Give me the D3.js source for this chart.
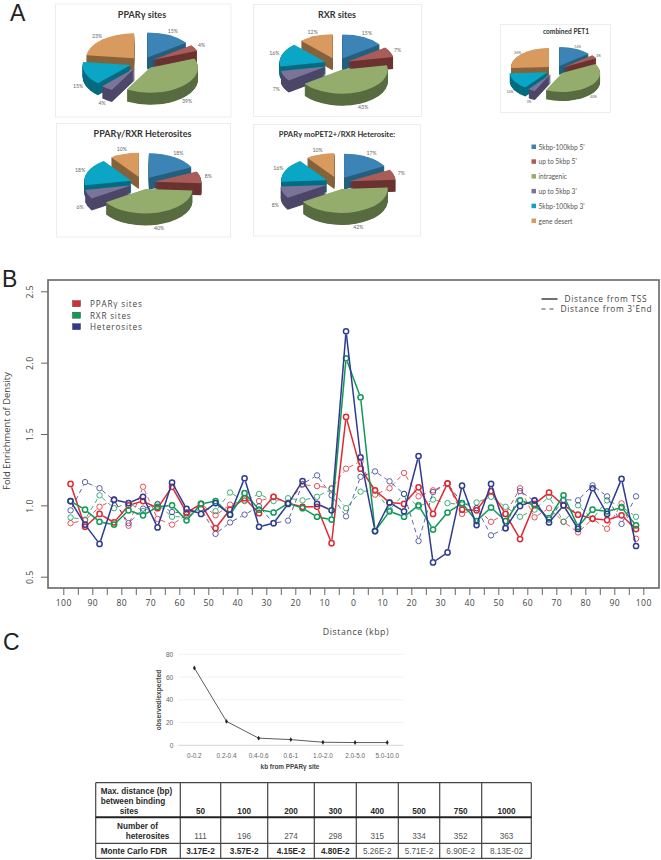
<!DOCTYPE html>
<html>
<head>
<meta charset="utf-8">
<script src="https://cdn.jsdelivr.net/npm/d3@7"></script>
<style>
  body { margin: 0; background: #fff; }
</style>
</head>
<body>
<div id="graph"></div>
<script>
// panel A
const sliceNames = ["5kbp-100kbp 5'", "up to 5kbp 5'", "intragenic", "up to 5kbp 3'", "5kbp-100kbp 3'", "gene desert"];
const sliceColors = ['#3c84b6', '#a95d58', '#94ad6c', '#7b7499', '#0ba6c6', '#d99a60'];
const wallColors = ['#25607f', '#6b3331', '#596c41', '#4d4769', '#066c81', '#87633b'];
const pie1Values = [15, 4, 39, 4, 15, 23];
const pie2Values = [15, 7, 43, 7, 16, 12];
const pie3Values = [18, 8, 40, 6, 18, 10];
const pie4Values = [17, 7, 42, 8, 16, 10];
const pie5Values = [14, 3, 40, 3, 14, 26];

// panel B
const bins = [-97.5, -92.5, -87.5, -82.5, -77.5, -72.5, -67.5, -62.5, -57.5, -52.5, -47.5, -42.5, -37.5, -32.5, -27.5, -22.5, -17.5, -12.5, -7.5, -2.5,
  2.5, 7.5, 12.5, 17.5, 22.5, 27.5, 32.5, 37.5, 42.5, 47.5, 52.5, 57.5, 62.5, 67.5, 72.5, 77.5, 82.5, 87.5, 92.5, 97.5];
const tssRed = [1.15, .85, .94, .88, 1.0, 1.03, .98, 1.13, .95, 1.01, .84, .97, 1.05, .945, 1.06, 1.015, .99, .99, .735, 1.62,
  1.257, 1.105, 1.02, 1.01, 1.126, .94, 1.154, .97, .965, 1.10, .94, .764, 1.01, 1.09, 1.0, .935, .907, .897, .93, .834];
const tssGreen = [1.03, .97, .885, .865, .965, .93, .99, 1.0, .895, 1.01, 1.03, .935, 1.085, .97, .95, 1.015, .98, .92, .90, 2.03,
  1.757, .82, .958, .92, 1.0, .83, .95, 1.015, .89, .985, .89, 1.035, 1.0, .91, 1.07, .85, .97, .958, .985, .86];
const tssBlue = [1.03, .865, .73, 1.04, 1.016, 1.06, .845, 1.16, .975, .94, 1.016, .935, 1.19, .85, .875, 1.01, 1.17, 1.01, .965, 2.22,
  1.336, .82, 1.02, .958, 1.346, .60, .67, 1.138, .862, 1.15, .84, .995, 1.035, .88, 1.0, .835, 1.12, .94, 1.185, .715];
const endRed = [.875, .895, .99, 1.04, .857, 1.13, .905, .865, .935, 1.01, .93, 1.005, 1.035, 1.03, 1.06, 1.015, 1.145, 1.135, 1.12, 1.257,
  1.308, 1.075, 1.12, 1.227, 1.063, 1.105, 1.15, .94, .98, .885, .94, 1.12, .916, .98, .885, .81, .904, .836, 1.014, .766];
const endGreen = [.915, .90, 1.07, .98, 1.016, .96, 1.005, .92, .92, .98, .96, 1.09, 1.03, 1.08, 1.03, 1.05, 1.035, 1.06, 1.115, .98,
  1.096, 1.105, .97, 1.08, .99, 1.04, 1.016, 1.005, 1.02, 1.06, .99, .92, .97, 1.06, .885, 1.0, .904, 1.035, .99, .92];
const endBlue = [.965, 1.163, 1.12, 1.035, .875, .977, 1.01, .953, .945, .975, .80, .88, .935, .993, .875, .893, 1.15, 1.21, 1.07, .923,
  1.20, 1.238, 1.168, 1.08, .75, 1.093, 1.154, 1.016, .98, .79, .84, 1.10, 1.03, .90, 1.04, 1.035, 1.14, 1.063, .87, 1.063];
const xTicks = [-100, -95, -90, -85, -80, -75, -70, -65, -60, -55, -50, -45, -40, -35, -30, -25, -20, -15, -10, -5, 0,
  5, 10, 15, 20, 25, 30, 35, 40, 45, 50, 55, 60, 65, 70, 75, 80, 85, 90, 95, 100];
const yTicks = [0.5, 1, 1.5, 2, 2.5];
const legendLabels = ['PPARγ sites', 'RXR sites', 'Heterosites'];

// panel C
const distBins = ['0-0.2', '0.2-0.4', '0.4-0.6', '0.6-1', '1.0-2.0', '2.0-5.0', '5.0-10.0'];
const obsExp = [68, 21, 6.3, 5, 2.7, 2.4, 2.4];
const obsTicks = [0, 20, 40, 60, 80];
const maxDist = ['50', '100', '200', '300', '400', '500', '750', '1000'];
const numHetero = ['111', '196', '274', '298', '315', '334', '352', '363'];
const fdr = ['3.17E-2', '3.57E-2', '4.15E-2', '4.80E-2', '5.26E-2', '5.71E-2', '6.90E-2', '8.13E-02'];

const red = '#dc2a32';
const green = '#0e9a56';
const blue = '#2f3b8e';
const tickColor = '#444';
const pieFont = 'Lato, sans-serif';
const figFont = '"Open Sans", sans-serif';
const tableFont = '"Liberation Sans", sans-serif';

const svg = d3.select('#graph')
  .append('svg')
  .attr('width', 661)
  .attr('height', 860);

// panel letters
[['A', 10, 21], ['B', 2, 287], ['C', 3, 650]].forEach(([label, x, y]) => {
  svg.append('text')
    .attr('x', x).attr('y', y)
    .attr('font-family', tableFont)
    .attr('font-size', 23)
    .attr('fill', '#222')
    .text(label);
});

function drawPie(values, opts) {
  const { cx, cy, r, explode, depth, tilt, labelR } = opts;

  svg.append('rect')
    .attr('x', opts.frame[0]).attr('y', opts.frame[1])
    .attr('width', opts.frame[2]).attr('height', opts.frame[3])
    .attr('fill', 'none')
    .attr('stroke', '#e9e9e9')
    .attr('stroke-width', 0.8);

  svg.append('text')
    .attr('x', opts.titleX).attr('y', opts.titleY)
    .attr('text-anchor', 'middle')
    .attr('font-family', pieFont)
    .attr('font-weight', 700)
    .attr('font-size', opts.titleSize)
    .attr('fill', '#333')
    .text(opts.title);

  const arcs = d3.pie().sort(null)(values)
    .map((d, i) => ({ ...d, i, mid: (d.startAngle + d.endAngle) / 2 }));
  const arcGen = d3.arc().innerRadius(0).outerRadius(r);
  const labelArc = d3.arc().innerRadius(labelR).outerRadius(labelR);

  // back slices first so the front walls cover them
  const ordered = arcs.slice().sort((a, b) => Math.cos(b.mid) - Math.cos(a.mid));
  const g = svg.append('g');
  ordered.forEach(d => {
    const dx = Math.sin(d.mid) * explode;
    const dy = -Math.cos(d.mid) * explode * tilt;
    d3.range(depth, 0, -0.5).forEach(step => {
      g.append('path')
        .attr('transform', `translate(${cx + dx},${cy + dy + step}) scale(1,${tilt})`)
        .attr('d', arcGen(d))
        .attr('fill', wallColors[d.i]);
    });
    g.append('path')
      .attr('transform', `translate(${cx + dx},${cy + dy}) scale(1,${tilt})`)
      .attr('d', arcGen(d))
      .attr('fill', sliceColors[d.i]);
  });

  g.selectAll('.pct')
    .data(arcs)
    .enter()
    .append('text')
    .attr('class', 'pct')
    .attr('x', d => cx + labelArc.centroid(d)[0])
    .attr('y', d => {
      const ly = labelArc.centroid(d)[1] * tilt;
      return cy + ly + (Math.cos(d.mid) < 0 ? depth : 0) + 1.5;
    })
    .attr('text-anchor', 'middle')
    .attr('font-family', pieFont)
    .attr('font-size', opts.labelSize)
    .attr('fill', '#666')
    .text(d => `${d.data}%`);
}

drawPie(pie1Values, { cx: 142, cy: 63, r: 48, explode: 12, depth: 12, tilt: 0.52, labelR: 68, labelSize: 5.2,
  frame: [55.5, 4, 175.5, 113], title: 'PPARγ  sites', titleX: 142, titleY: 18, titleSize: 9 });
drawPie(pie2Values, { cx: 337, cy: 64, r: 46, explode: 12, depth: 12, tilt: 0.52, labelR: 66, labelSize: 5.2,
  frame: [253.5, 4.5, 168, 112], title: 'RXR sites', titleX: 337, titleY: 18, titleSize: 9 });
drawPie(pie3Values, { cx: 142.5, cy: 183, r: 47, explode: 12, depth: 12, tilt: 0.52, labelR: 67, labelSize: 5.2,
  frame: [56.5, 123.5, 174, 113.5], title: 'PPARγ/RXR Heterosites', titleX: 142.5, titleY: 137, titleSize: 9 });
drawPie(pie4Values, { cx: 338, cy: 183, r: 46, explode: 12, depth: 12, tilt: 0.52, labelR: 66, labelSize: 5.2,
  frame: [253.5, 124.5, 167, 111.5], title: 'PPARγ moPET2+/RXR Heterosite:', titleX: 337, titleY: 137, titleSize: 7.6 });
drawPie(pie5Values, { cx: 555.5, cy: 70, r: 38, explode: 9, depth: 9, tilt: 0.5, labelR: 52, labelSize: 3.6,
  frame: [500.5, 24.5, 110, 88], title: 'combined PET1', titleX: 566, titleY: 34, titleSize: 6.6 });

// pie legend
const pieLegend = svg.append('g')
  .selectAll('g')
  .data(sliceNames)
  .enter()
  .append('g')
  .attr('transform', (d, i) => `translate(531.5,${144.5 + i * 14.8})`);
pieLegend.append('rect')
  .attr('width', 4.5).attr('height', 4.5)
  .attr('fill', (d, i) => sliceColors[i]);
pieLegend.append('text')
  .attr('x', 7).attr('y', 5)
  .attr('font-family', pieFont)
  .attr('font-size', 6.6)
  .attr('fill', '#555')
  .text(d => d);

// panel B
const xScaler = d3.scaleLinear().domain([-100, 100]).range([63.3, 643.3]);
const yScaler = d3.scaleLinear().domain([0.5, 2.5]).range([576.7, 291.3]);
const dimB = { left: 48, right: 659, top: 280, bottom: 588 };

const xAxisGen = d3.axisBottom(xScaler)
  .tickValues(xTicks)
  .tickSize(7)
  .tickFormat(d => d % 10 === 0 ? Math.abs(d) : '');
const xAxis = svg.append('g')
  .attr('transform', `translate(0,${dimB.bottom})`)
  .call(xAxisGen);
xAxis.select('.domain').remove();
xAxis.selectAll('line').attr('stroke', '#666').attr('stroke-width', 1);
xAxis.selectAll('text')
  .attr('y', 12)
  .attr('font-family', figFont)
  .attr('font-size', 8.6)
  .attr('letter-spacing', 0.5)
  .attr('fill', tickColor);

const yAxisGen = d3.axisLeft(yScaler)
  .tickValues(yTicks)
  .tickSize(7)
  .tickFormat(d3.format('.1f'));
const yAxis = svg.append('g')
  .attr('transform', `translate(${dimB.left},0)`)
  .call(yAxisGen);
yAxis.select('.domain').remove();
yAxis.selectAll('line').attr('stroke', '#666').attr('stroke-width', 1);
yAxis.selectAll('text')
  .attr('transform', 'translate(-15,0) rotate(-90)')
  .attr('x', 0)
  .attr('y', 0)
  .attr('dy', 0)
  .attr('text-anchor', 'middle')
  .attr('font-family', figFont)
  .attr('font-size', 8.6)
  .attr('letter-spacing', 0.5)
  .attr('fill', tickColor);

svg.append('rect')
  .attr('x', dimB.left).attr('y', dimB.top)
  .attr('width', dimB.right - dimB.left).attr('height', dimB.bottom - dimB.top)
  .attr('fill', 'none')
  .attr('stroke', '#666')
  .attr('stroke-width', 1.6);

svg.append('text')
  .attr('transform', 'translate(9.5,431) rotate(-90)')
  .attr('text-anchor', 'middle')
  .attr('font-family', figFont)
  .attr('font-size', 9.4)
  .attr('fill', tickColor)
  .text('Fold Enrichment of Density');

svg.append('text')
  .attr('x', 356).attr('y', 635)
  .attr('text-anchor', 'middle')
  .attr('font-family', figFont)
  .attr('font-size', 8.8)
  .attr('letter-spacing', 0.6)
  .attr('fill', tickColor)
  .text('Distance (kbp)');

// type="b" look: each segment stops short of the circles
function drawSeries(values, color, isSolid) {
  const pts = values.map((v, i) => [xScaler(bins[i]), yScaler(v)]);
  const gap = 3.4;
  const g = svg.append('g');
  d3.pairs(pts).forEach(([a, b]) => {
    const len = Math.hypot(b[0] - a[0], b[1] - a[1]);
    if (len <= gap * 2) return;
    const ux = (b[0] - a[0]) / len;
    const uy = (b[1] - a[1]) / len;
    g.append('line')
      .attr('x1', a[0] + ux * gap).attr('y1', a[1] + uy * gap)
      .attr('x2', b[0] - ux * gap).attr('y2', b[1] - uy * gap)
      .attr('stroke', color)
      .attr('stroke-width', isSolid ? 1.5 : 0.8)
      .attr('stroke-dasharray', isSolid ? null : '4.5,3.5');
  });
  g.selectAll('circle')
    .data(pts)
    .enter()
    .append('circle')
    .attr('cx', d => d[0])
    .attr('cy', d => d[1])
    .attr('r', isSolid ? 2.6 : 2.7)
    .attr('fill', 'none')
    .attr('stroke', color)
    .attr('stroke-width', isSolid ? 1.5 : 0.8);
}

drawSeries(endRed, red, false);
drawSeries(endGreen, green, false);
drawSeries(endBlue, blue, false);
drawSeries(tssRed, red, true);
drawSeries(tssGreen, green, true);
drawSeries(tssBlue, blue, true);

const seriesLegend = svg.append('g')
  .selectAll('g')
  .data(legendLabels)
  .enter()
  .append('g')
  .attr('transform', (d, i) => `translate(72.5,${300.7 + i * 11.5})`);
seriesLegend.append('rect')
  .attr('width', 8).attr('height', 6)
  .attr('fill', (d, i) => [red, green, blue][i])
  .attr('stroke', '#444')
  .attr('stroke-width', 0.5);
seriesLegend.append('text')
  .attr('x', 17.5).attr('y', 6.3)
  .attr('font-family', figFont)
  .attr('font-size', 8.2)
  .attr('letter-spacing', 0.8)
  .attr('fill', tickColor)
  .text(d => d);

svg.append('line')
  .attr('x1', 541.5).attr('x2', 557.5).attr('y1', 299).attr('y2', 299)
  .attr('stroke', '#222').attr('stroke-width', 1.3);
svg.append('line')
  .attr('x1', 541.5).attr('x2', 557.5).attr('y1', 309).attr('y2', 309)
  .attr('stroke', '#222').attr('stroke-width', 0.8).attr('stroke-dasharray', '4,4');
svg.append('text')
  .attr('x', 564.5).attr('y', 302)
  .attr('font-family', figFont).attr('font-size', 8.4).attr('letter-spacing', 0.7)
  .attr('fill', tickColor)
  .text('Distance from TSS');
svg.append('text')
  .attr('x', 560.5).attr('y', 312)
  .attr('font-family', figFont).attr('font-size', 8.4).attr('letter-spacing', 0.7)
  .attr('fill', tickColor)
  .text('Distance from 3\'End');

// panel C line chart
const xBand = d3.scaleBand().domain(distBins).range([178.3, 403.3]);
const yObs = d3.scaleLinear().domain([0, 80]).range([745.3, 654.3]);

svg.append('g')
  .selectAll('line')
  .data(obsTicks)
  .enter()
  .append('line')
  .attr('x1', 178.3).attr('x2', 403.3)
  .attr('y1', d => yObs(d)).attr('y2', d => yObs(d))
  .attr('stroke', d => d === 0 ? '#ccc' : '#ececec')
  .attr('stroke-width', 0.8);

const obsXAxis = svg.append('g')
  .attr('transform', 'translate(0,745.3)')
  .call(d3.axisBottom(xBand).tickSize(0));
obsXAxis.select('.domain').remove();
obsXAxis.selectAll('text')
  .attr('y', 8)
  .attr('font-family', tableFont)
  .attr('font-size', 6.4)
  .attr('fill', '#666');

const obsYAxis = svg.append('g')
  .attr('transform', 'translate(178.3,0)')
  .call(d3.axisLeft(yObs).tickValues(obsTicks).tickSize(0).tickPadding(5));
obsYAxis.select('.domain').remove();
obsYAxis.selectAll('text')
  .attr('font-family', tableFont)
  .attr('font-size', 6.6)
  .attr('fill', '#666');

const xBandCenter = d => xBand(d) + xBand.bandwidth() / 2;
svg.append('path')
  .datum(distBins)
  .attr('fill', 'none')
  .attr('stroke', '#333')
  .attr('stroke-width', 0.8)
  .attr('d', d3.line().x(xBandCenter).y((d, i) => yObs(obsExp[i])));
svg.append('g')
  .selectAll('path')
  .data(distBins)
  .enter()
  .append('path')
  .attr('transform', (d, i) => `translate(${xBandCenter(d)},${yObs(obsExp[i])})`)
  .attr('d', d3.symbol(d3.symbolDiamond, 7))
  .attr('fill', '#222');

svg.append('text')
  .attr('transform', 'translate(161,700) rotate(-90)')
  .attr('text-anchor', 'middle')
  .attr('font-family', tableFont)
  .attr('font-weight', 700)
  .attr('font-size', 6.7)
  .attr('fill', '#444')
  .text('observed/expected');
svg.append('text')
  .attr('x', 290).attr('y', 768.5)
  .attr('text-anchor', 'middle')
  .attr('font-family', tableFont)
  .attr('font-weight', 700)
  .attr('font-size', 6.4)
  .attr('fill', '#444')
  .text('kb from PPARγ site');

// table
const colEdges = [95.7, 180.3, 220.7, 267.7, 314.3, 356.3, 398.3, 439.7, 481.7, 531.3];
const rowEdges = [782.7, 817.3, 843.3, 858.3];
const table = svg.append('g');
colEdges.forEach(x => {
  table.append('line')
    .attr('x1', x).attr('x2', x)
    .attr('y1', rowEdges[0]).attr('y2', rowEdges[3])
    .attr('stroke', '#444')
    .attr('stroke-width', 1.2);
});
rowEdges.forEach((y, i) => {
  table.append('line')
    .attr('x1', colEdges[0]).attr('x2', colEdges[colEdges.length - 1])
    .attr('y1', y).attr('y2', y)
    .attr('stroke', i === 1 ? '#222' : '#444')
    .attr('stroke-width', i === 1 ? 2 : 1.2);
});

const cellText = (x, y, text, bold, anchor) => table.append('text')
  .attr('x', x).attr('y', y)
  .attr('text-anchor', anchor || 'middle')
  .attr('font-family', tableFont)
  .attr('font-weight', bold ? 700 : 400)
  .attr('font-size', 8.2)
  .attr('fill', bold ? '#2a2a2a' : '#555')
  .text(text);

cellText(100.7, 793.5, 'Max. distance (bp)', true, 'start');
cellText(100.7, 803.5, 'between binding', true, 'start');
cellText(119.7, 813.5, 'sites', true, 'start');
cellText(117, 828.5, 'Number of', true, 'start');
cellText(125.7, 838.5, 'heterosites', true, 'start');
cellText(100.7, 854, 'Monte Carlo FDR', true, 'start');

maxDist.forEach((d, i) => {
  const mid = (colEdges[i + 1] + colEdges[i + 2]) / 2;
  cellText(mid, 813.5, d, true);
  cellText(mid, 838.5, numHetero[i], false);
  cellText(mid, 854, fdr[i], i < 4);
});
</script>
</body>
</html>
